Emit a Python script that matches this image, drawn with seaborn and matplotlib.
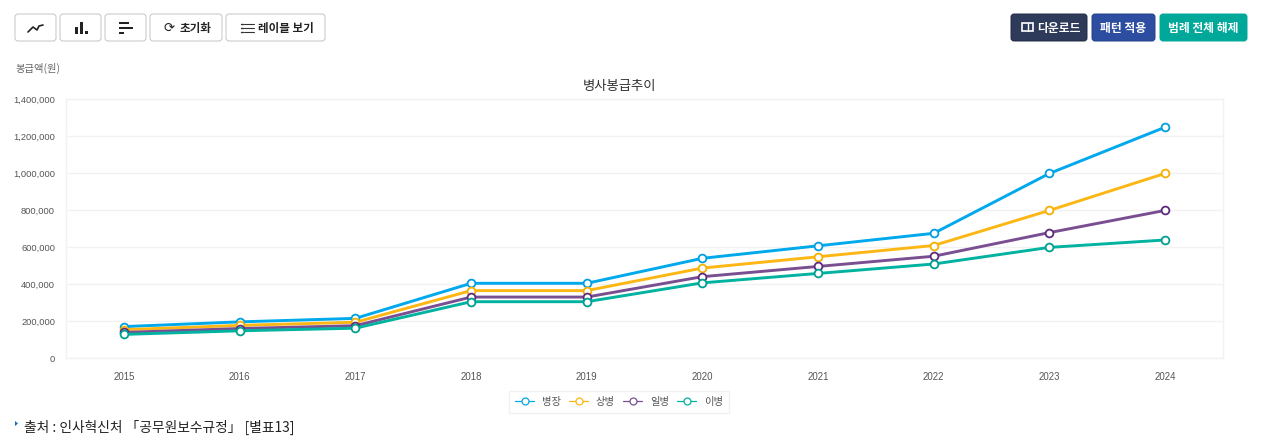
import matplotlib
matplotlib.use('Agg')
import matplotlib.pyplot as plt
import seaborn as sns
import pandas as pd
from matplotlib.patches import FancyBboxPatch, Polygon, Rectangle
from matplotlib.ticker import FuncFormatter

years = ['2015', '2016', '2017', '2018', '2019', '2020', '2021', '2022', '2023', '2024']
byeongjang = [171400, 197100, 216000, 405700, 405700, 540900, 608500, 676100, 1000000, 1250000]
sangbyeong = [154800, 178000, 195000, 366200, 366200, 488200, 549200, 610200, 800000, 1000000]
ilbyeong = [140000, 161000, 176400, 331300, 331300, 441600, 496900, 552100, 680000, 800000]
ibyeong = [129400, 148800, 163000, 306100, 306100, 408100, 459100, 510100, 600000, 640000]
ranks = ['병장', '상병', '일병', '이병']
colors = ['#00a8ec', '#fcb714', '#7a4f92', '#00b2a0']
edge_colors = ['#009fe0', '#f5b000', '#5e2a7e', '#00a08f']
y_ticks = [0, 200000, 400000, 600000, 800000, 1000000, 1200000, 1400000]

sns.set_theme(style='white')
plt.rcParams['font.family'] = ['Liberation Sans', 'Noto Sans CJK KR', 'DejaVu Sans']

df = pd.DataFrame({
    'year': years * 4,
    'pay': byeongjang + sangbyeong + ilbyeong + ibyeong,
    'rank': [r for r in ranks for _ in years],
})

fig = plt.figure(figsize=(12.8, 4.48), dpi=100)
W, H = 1280, 448
ax = fig.add_axes([66.2 / W, 1 - 358.3 / H, 1156.7 / W, 258.8 / H])

sns.lineplot(data=df, x='year', y='pay', hue='rank', hue_order=ranks, palette=colors,
             sort=False, estimator=None, marker='o', markersize=5.6, markerfacecolor='white',
             markeredgewidth=1.3, linewidth=2.1, dashes=False, ax=ax, clip_on=False)
for line, c in zip(ax.lines, edge_colors):
    line.set_markeredgecolor(c)

ax.set_xlim(-0.5, 9.5)
ax.set_ylim(0, 1400000)
ax.set_yticks(y_ticks)
ax.yaxis.set_major_formatter(FuncFormatter(lambda v, p: f'{int(v):,}'))
ax.grid(axis='y', color='#f2f2f2', lw=1)
ax.set_axisbelow(True)
ax.set_xlabel('')
ax.set_ylabel('')
ax.tick_params(axis='x', length=0, labelsize=6.9, labelcolor='#555555', pad=9.6)
ax.tick_params(axis='y', length=0, labelsize=6.7, labelcolor='#555555', pad=8)
for s in ax.spines.values():
    s.set_color('#f2f2f2')
    s.set_linewidth(1)
ax.set_title('병사봉급추이', fontsize=9.6, color='#333333', x=(619 - 66.2) / 1156.7, pad=7)

handles, labels = ax.get_legend_handles_labels()
leg = ax.legend(handles, labels, ncol=4, loc='center', bbox_to_anchor=(619 / W, 1 - 402 / H),
                bbox_transform=fig.transFigure, fontsize=7.4, labelcolor='#555555',
                frameon=True, fancybox=False, edgecolor='#eeeeee', handlelength=1.85,
                columnspacing=0.8, handletextpad=0.75, borderpad=0.58, borderaxespad=0, title=None)
leg.get_frame().set_linewidth(1)
for h, c in zip(leg.legend_handles, colors):
    h.set_linewidth(0.9)
    h.set_markersize(5)
    h.set_markeredgewidth(0.9)
    h.set_markeredgecolor(c)
    h.set_markerfacecolor('white')

# page furniture drawn in pixel coordinates
top = fig.add_axes([0, 0, 1, 1], facecolor='none')
top.set_xlim(0, W)
top.set_ylim(H, 0)
top.axis('off')

def button(x0, x1, face, edge):
    top.add_patch(FancyBboxPatch((x0 + 2, 16), x1 - x0 - 4, 23, boxstyle='round,pad=2,rounding_size=3',
                                 fc=face, ec=edge, lw=0.7, zorder=1))

for x0, x1 in [(15, 56), (60, 101), (105, 146), (150, 222), (226, 325)]:
    button(x0, x1, 'white', '#c4c4c4')
button(1011, 1087, '#2e3a59', '#1f2a44')
button(1092, 1155, '#2c4da0', '#213f8c')
button(1160, 1247, '#00a89a', '#00a89a')

# line, bar and horizontal bar icons
top.plot([28, 33, 37, 39, 43], [32, 27, 30, 26, 25], color='#222222', lw=1.2)
for x, h in [(75, 7), (80, 12), (85, 3)]:
    top.add_patch(Rectangle((x, 34 - h), 2.6, h, color='#222222', lw=0))
for y, w in [(22, 10), (27, 13.5), (32, 5)]:
    top.add_patch(Rectangle((119, y), w, 2.4, color='#222222', lw=0))
# list icon
for y in [24, 28, 32]:
    top.plot([244, 254], [y, y], color='#333333', lw=0.8)
    top.plot([241, 243], [y, y], color='#333333', lw=1.0)
# download icon
top.add_patch(Rectangle((1022, 23), 11, 8, fc='none', ec='white', lw=1.2))
top.plot([1027.5, 1027.5], [23, 31], color='white', lw=1)

top.text(169, 28, '⟳', fontsize=9.5, ha='center', va='center', color='#222222', family='DejaVu Sans')
btn_font = ['Noto Sans CJK KR', 'DejaVu Sans']
top.text(195, 28.5, '초기화', fontsize=8.3, ha='center', va='center', color='#222222', weight='bold', family=btn_font)
top.text(285.5, 28.5, '레이블 보기', fontsize=8.3, ha='center', va='center', color='#222222', weight='bold', family=btn_font)
top.text(1058.5, 28.5, '다운로드', fontsize=8.5, ha='center', va='center', color='white', weight='bold', family=btn_font)
top.text(1123.5, 28.5, '패턴 적용', fontsize=8.5, ha='center', va='center', color='white', weight='bold', family=btn_font)
top.text(1203.5, 28.5, '범례 전체 해제', fontsize=8.5, ha='center', va='center', color='white', weight='bold', family=btn_font)

top.text(15, 68, '봉급액(원)', fontsize=7.4, ha='left', va='center', color='#666666', family=btn_font)

top.add_patch(Polygon([[15, 421], [18, 423.5], [15, 426]], color='#0a6fc2', lw=0))
top.text(24, 427.5, '출처 : 인사혁신처 「공무원보수규정」 [별표13]', fontsize=9.9, ha='left', va='center',
         color='#222222', family=btn_font)

fig.savefig('out.png', dpi=100)
